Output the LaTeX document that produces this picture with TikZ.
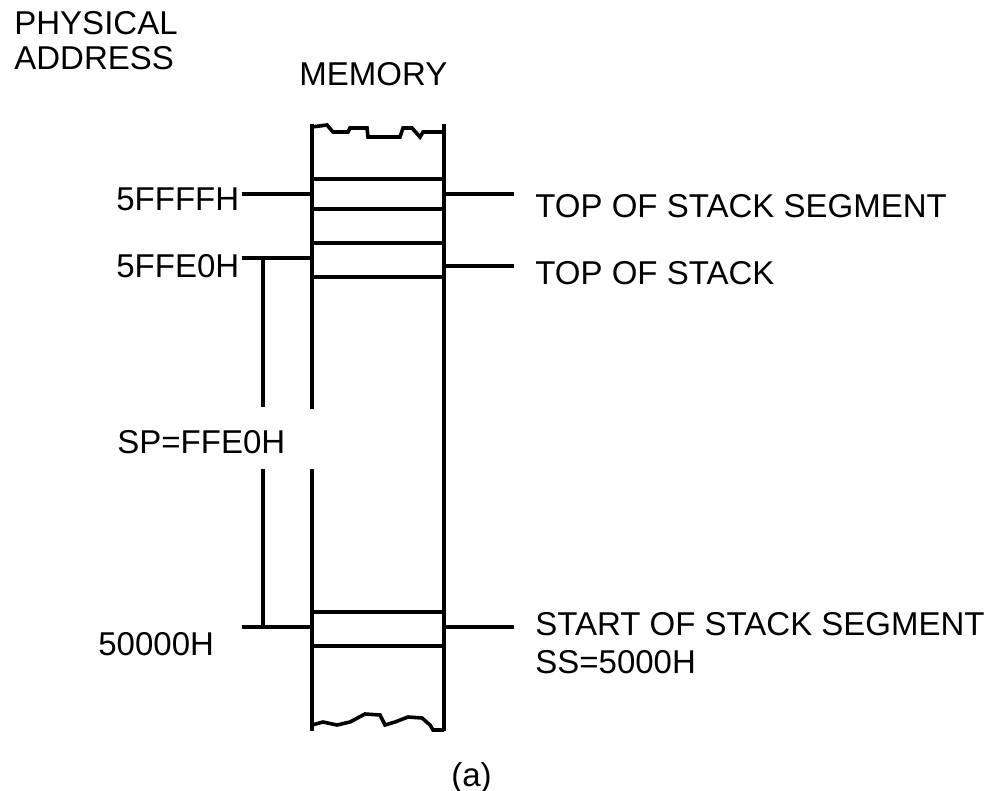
\documentclass[tikz,border=0pt]{standalone}
\usepackage{fontspec}
\setmainfont{Liberation Sans}
\usepackage{tikz}
\tikzset{
  lbl/.style={anchor=base west, inner sep=0pt, font=\fontsize{16.5}{19}\selectfont},
  mln/.style={line width=1.8pt},           % memory column
  lead/.style={line width=1.8pt},          % leader lines
  brk/.style={line width=1.8pt, line join=miter},  % torn edge
}

\begin{document}
\begin{tikzpicture}[x=0.5pt,y=-0.5pt]
        \useasboundingbox (0,0) rectangle (995,791);
        % titles
        \node[lbl](pa) at (14,35){PHYSICAL};
        \node[lbl](pb) at (14,70){ADDRESS};
        \node[lbl](mem) at (299,86){MEMORY};
        \node[lbl](cap) at (451,786){(a)};
        % addresses
        \node[lbl](a1) at (116,211){5FFFFH};
        \node[lbl](a2) at (116,278){5FFE0H};
        \node[lbl](sp) at (117,453){SP=FFE0H};
        \node[lbl](a3) at (98,655){50000H};
        % right side
        \node[lbl](t1) at (535,218){TOP OF STACK SEGMENT};
        \node[lbl](t2) at (535,285){TOP OF STACK};
        \node[lbl](t3) at (535,635){START OF STACK SEGMENT};
        \node[lbl](t4) at (535,673){SS=5000H};
        % memory column
        \coordinate (tl) at (312,124); \coordinate (tr) at (444,124);
        \coordinate (bl) at (312,731); \coordinate (br) at (444,731);
        \coordinate (g1) at (312,409); \coordinate (g2) at (312,469);
        \draw[mln](tl)--(g1); \draw[mln](g2)--(bl); \draw[mln](tr)--(br);
        \foreach \y in {179,209,243,277,612,646}
          \draw[mln](312,\y)--(444,\y);
        \draw[brk](312,127)--(327,125)--(333,132)--(348,132)--(350,128)--(367,128)
          --(368,137)--(400,137)--(403,128)--(412,128)--(420,137)--(423,132)--(444,132);
        \draw[brk](312,725)--(323,722)--(337,725)--(350,722)--(365,714)--(380,715)
          --(385,725)--(395,722)--(408,717)--(422,718)--(430,725)--(433,730)--(444,730);
        % leaders
        \coordinate (l1) at (242,194); \coordinate (m1) at (312,194);
        \coordinate (l2) at (242,258); \coordinate (m2) at (312,258);
        \coordinate (l3) at (242,627); \coordinate (m3) at (312,627);
        \coordinate (r1) at (444,194); \coordinate (e1) at (514,194);
        \coordinate (r2) at (444,266); \coordinate (e2) at (514,266);
        \coordinate (r3) at (444,627); \coordinate (e3) at (514,627);
        \draw[lead](l1)--(m1); \draw[lead](l2)--(m2); \draw[lead](l3)--(m3);
        \draw[lead](r1)--(e1); \draw[lead](r2)--(e2); \draw[lead](r3)--(e3);
        % SP bracket
        \coordinate (b1) at (263,258); \coordinate (b2) at (263,407);
        \coordinate (b3) at (263,469); \coordinate (b4) at (263,627);
        \draw[lead](b1)--(b2); \draw[lead](b3)--(b4);
      \end{tikzpicture}
\end{document}
